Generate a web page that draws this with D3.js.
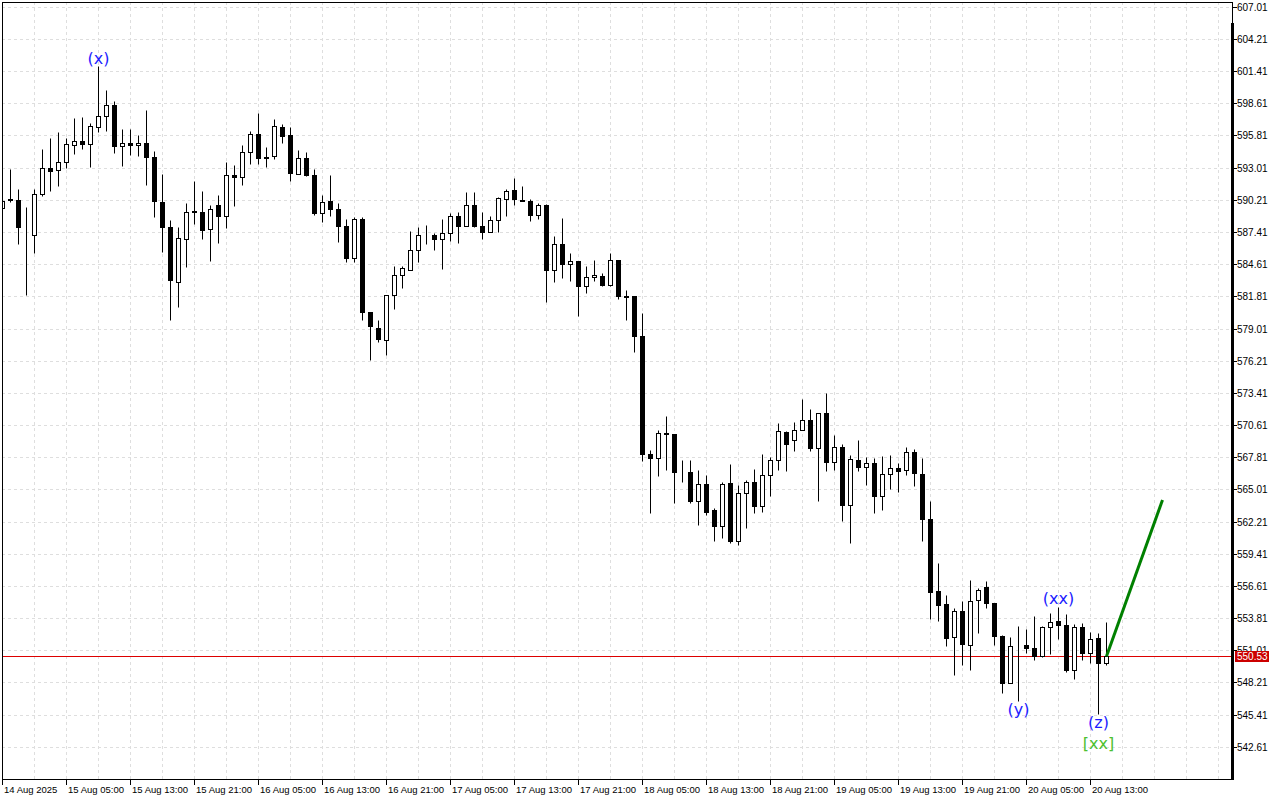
<!DOCTYPE html>
<html><head><meta charset="utf-8">
<script src="https://cdn.jsdelivr.net/npm/d3@7"></script>
<style>body{margin:0;background:#fff;overflow:hidden;} svg{display:block;}</style>
</head><body>
<svg id="c" width="1280" height="800"></svg>
<script>
// ---- DATA (hourly bars, first bar 14 Aug 2025 21:00) ----
const opens = [589.54,590.26,590.21,587.36,587.17,590.73,592.99,592.82,593.52,595.00,595.35,595.09,596.57,597.52,598.48,594.91,595.17,595.00,595.17,593.95,590.04,587.86,583.08,586.82,589.26,589.17,587.69,589.78,588.82,592.39,592.21,594.39,595.96,593.95,594.04,596.57,595.87,592.48,593.87,592.39,589.08,590.13,589.43,587.89,585.13,588.50,580.46,579.07,578.03,581.91,583.69,584.12,585.86,587.19,587.17,586.82,587.34,588.82,587.95,589.78,587.95,587.43,588.47,590.30,591.08,590.21,590.13,588.91,589.78,584.12,586.38,584.64,584.90,582.73,583.51,583.60,582.82,584.99,581.86,581.82,578.34,568.13,567.76,569.93,569.87,566.47,566.54,564.02,565.52,563.20,561.81,565.58,560.50,564.71,565.67,563.55,566.28,567.58,570.02,569.33,570.20,571.07,568.63,571.67,567.37,568.72,563.63,567.58,566.97,567.32,564.42,566.37,566.89,566.71,568.28,566.37,562.45,556.15,555.05,552.18,554.41,551.48,555.40,556.53,555.14,552.21,548.18,551.42,551.51,551.22,550.49,553.05,553.57,553.22,549.33,553.05,550.79,552.09,549.92];
const highs = [590.33,592.85,591.17,589.60,591.19,594.67,595.55,596.13,595.61,597.29,597.40,596.91,601.84,599.81,598.77,596.39,596.39,595.87,598.01,594.48,592.48,588.47,587.86,589.95,591.87,590.99,589.80,590.65,593.52,593.26,595.00,596.22,597.78,594.83,597.26,596.83,596.57,594.56,594.39,592.91,590.59,592.33,589.95,588.50,588.70,588.70,580.46,579.79,581.94,584.47,584.47,587.51,587.86,588.00,587.34,588.50,589.08,589.17,590.91,590.91,589.17,588.82,590.47,591.17,592.13,591.43,590.30,589.95,589.86,587.08,588.65,585.60,584.90,584.47,584.99,583.86,585.60,584.99,582.38,581.82,580.32,568.48,570.22,571.44,569.87,567.61,567.61,566.74,566.30,563.37,565.64,567.26,565.43,565.87,566.80,568.13,567.84,570.80,570.11,570.89,572.92,572.05,571.67,573.42,569.76,568.98,567.96,569.33,567.84,567.76,567.93,568.02,567.32,568.74,568.54,567.70,563.98,558.62,555.86,554.70,555.31,557.14,556.45,557.05,555.14,552.38,552.18,553.16,552.88,553.95,553.13,554.27,554.79,554.18,553.31,553.40,552.62,552.53,553.45];
const lows = [589.37,590.00,586.38,581.97,585.57,590.53,590.96,591.40,592.99,594.16,594.65,593.05,596.13,596.18,594.27,593.14,594.15,594.01,591.48,588.73,585.65,579.73,580.86,584.35,588.12,586.78,584.87,586.44,587.74,589.66,591.48,593.35,593.35,593.05,593.78,595.17,591.83,592.48,592.30,588.87,588.26,588.79,586.52,584.78,584.78,579.73,576.31,577.82,576.69,580.69,582.52,584.12,584.78,586.35,585.86,584.21,586.61,586.47,587.95,587.86,586.82,587.43,587.43,588.82,589.78,590.13,588.39,588.56,581.34,583.08,583.42,583.16,580.12,582.12,583.16,582.73,582.73,581.60,579.77,576.95,567.46,562.97,566.16,566.68,563.84,565.63,563.84,561.95,562.80,560.50,560.76,560.36,560.21,561.67,562.97,563.02,564.42,566.74,566.59,568.33,570.20,568.33,563.98,566.59,566.74,562.24,560.36,566.63,565.41,562.97,563.20,565.06,564.80,566.25,565.29,560.50,553.69,553.54,551.36,548.87,549.71,549.27,552.53,554.70,551.48,547.31,548.18,546.57,550.79,550.14,550.40,550.67,552.01,549.13,548.52,550.20,549.92,545.42,549.71];
const closes = [590.15,590.20,587.83,587.30,590.73,592.99,592.70,593.52,595.09,595.35,595.09,596.65,597.52,598.48,594.91,595.17,595.00,595.17,593.95,590.09,587.83,583.25,586.91,589.17,589.13,587.60,589.43,588.82,592.39,592.21,594.39,595.96,593.87,593.87,596.65,595.78,592.56,593.87,592.39,589.05,590.04,589.43,587.91,585.13,588.50,580.43,579.21,578.12,581.94,583.69,584.30,585.86,587.17,587.15,586.82,587.34,588.82,587.95,589.78,587.91,587.43,588.47,590.39,591.00,590.30,590.13,588.91,589.78,584.12,586.38,584.64,584.90,582.73,583.51,583.69,582.82,584.99,581.86,581.77,578.38,568.11,567.76,569.93,569.81,566.51,566.43,563.98,565.52,563.02,561.81,565.52,560.50,564.71,565.67,563.55,566.28,567.58,570.07,568.98,570.20,571.07,568.63,571.67,567.37,568.72,563.63,567.67,566.97,567.32,564.42,566.37,566.89,566.63,568.28,566.45,562.45,556.10,554.93,552.09,554.41,551.57,555.31,556.27,555.14,552.23,548.18,551.40,551.38,551.19,550.49,553.05,553.48,553.22,549.27,553.05,550.79,552.01,549.92,550.53];

const timeLabels = ["14 Aug 2025","15 Aug 05:00","15 Aug 13:00","15 Aug 21:00","16 Aug 05:00","16 Aug 13:00","16 Aug 21:00","17 Aug 05:00","17 Aug 13:00","17 Aug 21:00","18 Aug 05:00","18 Aug 13:00","18 Aug 21:00","19 Aug 05:00","19 Aug 13:00","19 Aug 21:00","20 Aug 05:00","20 Aug 13:00"];
const barsPerLabel = 8;
const barsPerGrid = 4;
const priceTicks = [607.01,604.21,601.41,598.61,595.81,593.01,590.21,587.41,584.61,581.81,579.01,576.21,573.41,570.61,567.81,565.01,562.21,559.41,556.61,553.81,551.01,548.21,545.41,542.61];
const lastPrice = 550.53;

const waveLabelText = ["(x)","(xx)","(y)","(z)","[xx]"];
const waveLabelBar  = [12, 132, 127, 137, 137];
const waveLabelSide = ["above","above","below","below","below2"];
const waveLabelKind = ["minor","minor","minor","minor","major"];

const projBars   = [138, 145];
const projPrices = [550.53, 564.13];

// ---- LAYOUT ----
const plotL = 2, plotT = 2, plotR = 1232, plotB = 779;
const svg = d3.select("#c");
const x = d3.scaleLinear().domain([0, 1]).range([2.5, 10.5]);
const y = d3.scaleLinear().domain([539.85, 607.47]).range([plotB, plotT]);
const crisp = v => Math.round(v - 0.5) + 0.5;
const axisFont = "Liberation Sans, Arial, sans-serif";

svg.append("rect").attr("width",1280).attr("height",800).attr("fill","#fff");

const defs = svg.append("defs");
defs.append("clipPath").attr("id","plotclip").append("rect")
  .attr("x",plotL+1).attr("y",plotT+1).attr("width",plotR-plotL-2).attr("height",plotB-plotT-1);

const gGrid = svg.append("g").attr("clip-path","url(#plotclip)");
gGrid.selectAll("line.h").data(priceTicks).join("line")
  .attr("x1",plotL).attr("x2",plotR)
  .attr("y1",d=>crisp(y(d))).attr("y2",d=>crisp(y(d)))
  .attr("stroke","#dedede").attr("stroke-dasharray","3,3").attr("stroke-width",1);
const nGrid = Math.floor(x.invert(plotR) / barsPerGrid);
const gridBars = d3.range(1, nGrid + 1).map(i => i * barsPerGrid);
gGrid.selectAll("line.v").data(gridBars).join("line")
  .attr("x1",d=>x(d)).attr("x2",d=>x(d))
  .attr("y1",plotT).attr("y2",plotB)
  .attr("stroke","#dedede").attr("stroke-dasharray","3,3").attr("stroke-width",1);

gGrid.append("line")
  .attr("x1",plotL).attr("x2",plotR)
  .attr("y1",crisp(y(lastPrice))).attr("y2",crisp(y(lastPrice)))
  .attr("stroke","#dd0000").attr("stroke-width",1);

const bars = d3.range(opens.length).map(i => ({i, o:opens[i], h:highs[i], l:lows[i], c:closes[i]}));
const gC = svg.append("g").attr("clip-path","url(#plotclip)");
gC.selectAll("line.wick").data(bars).join("line")
  .attr("x1",d=>x(d.i)).attr("x2",d=>x(d.i))
  .attr("y1",d=>crisp(y(d.h))).attr("y2",d=>crisp(y(d.l)))
  .attr("stroke","#000").attr("stroke-width",1);
gC.selectAll("rect.body").data(bars).join("rect")
  .attr("x",d=>x(d.i)-2).attr("width",4)
  .attr("y",d=>crisp(y(Math.max(d.o,d.c))))
  .attr("height",d=>Math.max(0, crisp(y(Math.min(d.o,d.c))) - crisp(y(Math.max(d.o,d.c)))))
  .attr("fill",d=>d.c>=d.o ? "#fff" : "#000")
  .attr("stroke","#000").attr("stroke-width",1);

const proj = projBars.map((b,k)=>[x(b), y(projPrices[k])]);
svg.append("path").attr("d", d3.line()(proj))
  .attr("fill","none").attr("stroke","#008000").attr("stroke-width",3);

const gW = svg.append("g");
waveLabelText.forEach((t,k)=>{
  const b = waveLabelBar[k];
  const side = waveLabelSide[k];
  let yy;
  if (side === "above") yy = y(highs[b]) - 3;
  else if (side === "below") yy = y(lows[b]) + 13;
  else yy = y(lows[b]) + 34;
  gW.append("text").attr("x", x(b)).attr("y", yy)
    .attr("text-anchor","middle")
    .attr("font-family","DejaVu Sans, sans-serif").attr("font-size",16)
    .attr("fill", waveLabelKind[k]==="major" ? "#4cc030" : "#1c1cff")
    .text(t);
});

svg.append("rect").attr("x",plotL+0.5).attr("y",plotT+0.5)
  .attr("width",plotR-plotL).attr("height",plotB-plotT)
  .attr("fill","none").attr("stroke","#000").attr("stroke-width",1);
svg.append("line").attr("x1",plotR+0.5).attr("x2",plotR+0.5).attr("y1",23).attr("y2",plotB+1)
  .attr("stroke","#000").attr("stroke-width",3);

const gY = svg.append("g");
gY.selectAll("line").data(priceTicks).join("line")
  .attr("x1",plotR+1).attr("x2",plotR+5)
  .attr("y1",d=>crisp(y(d))).attr("y2",d=>crisp(y(d)))
  .attr("stroke","#000");
gY.selectAll("text").data(priceTicks.filter(d => Math.abs(y(d) - y(lastPrice)) > 8)).join("text")
  .attr("x",plotR+5).attr("y",d=>y(d)+3.5)
  .attr("font-family",axisFont).attr("font-size",10)
  .attr("fill","#000").text(d=>d.toFixed(2));
// tick label partly hidden behind the last-price tag
gY.selectAll("text.hid").data(priceTicks.filter(d => Math.abs(y(d) - y(lastPrice)) <= 8)).join("text")
  .attr("x",plotR+5).attr("y",d=>y(d)+3.5)
  .attr("font-family",axisFont).attr("font-size",10)
  .attr("fill","#000").text(d=>d.toFixed(2));

const ly = crisp(y(lastPrice));
svg.append("rect").attr("x",plotR+3).attr("y",ly-5.5).attr("width",34).attr("height",11).attr("fill","#cc0000");
svg.append("text").attr("x",plotR+5).attr("y",ly+3.5)
  .attr("font-family",axisFont).attr("font-size",10)
  .attr("fill","#fff").text(lastPrice.toFixed(2));

const gX = svg.append("g");
timeLabels.forEach((t,k)=>{
  const xx = x(k*barsPerLabel);
  gX.append("line").attr("x1",xx).attr("x2",xx).attr("y1",plotB+1).attr("y2",plotB+6).attr("stroke","#000");
  gX.append("text").attr("x",xx+1.5).attr("y",plotB+14)
    .attr("font-family",axisFont).attr("font-size",9.5)
    .attr("fill","#000").text(t);
});
</script>
</body></html>
